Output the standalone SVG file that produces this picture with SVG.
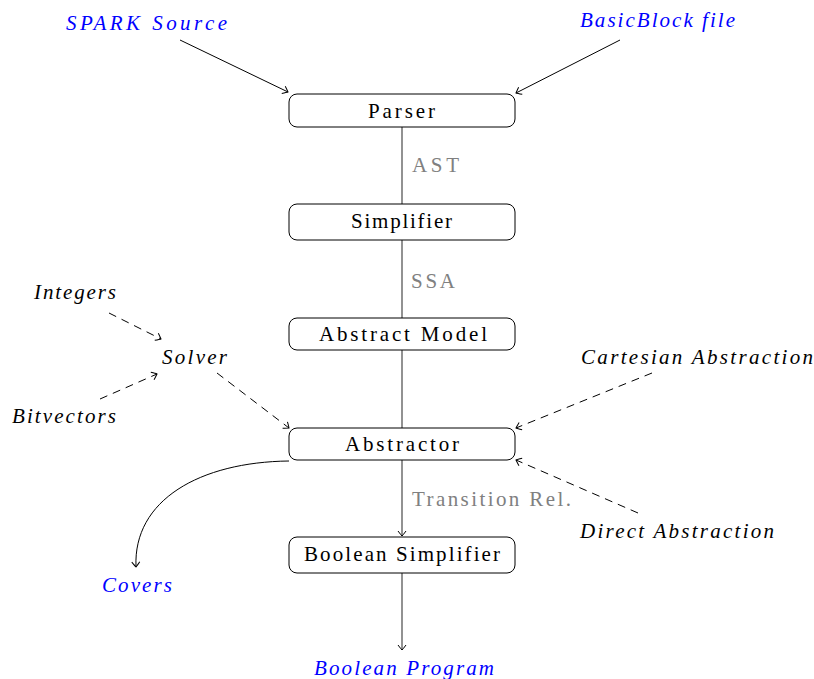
<svg xmlns="http://www.w3.org/2000/svg" width="814" height="679" viewBox="0 0 814 679">
<style>
.box{fill:#fff;stroke:#000;stroke-width:1}
.b{fill:#0000ff}
.g{fill:#808080}
.ln{fill:none;stroke:#000;stroke-width:1}
.gl{fill:none;stroke:#777;stroke-width:1.6}
.d{stroke-dasharray:8 6}
</style>
<defs>
<marker id="to" markerUnits="userSpaceOnUse" markerWidth="12" markerHeight="12" viewBox="-8 -6 10 12" refX="0" refY="0" orient="auto">
<path d="M-5,-4 Q-1,-1 0,0 Q-1,1 -5,4" fill="none" stroke="#000" stroke-width="1"/>
</marker>
</defs>
<g font-family="Liberation Serif, DejaVu Serif, serif" font-size="21">
<g id="connectors">
<line class="gl" x1="402" y1="127" x2="402" y2="204"/>
<line class="gl" x1="402" y1="240" x2="402" y2="318"/>
<line class="gl" x1="402" y1="350" x2="402" y2="428"/>
<line class="gl" x1="402" y1="460" x2="402" y2="536" marker-end="url(#to)"/>
<line class="gl" x1="402" y1="573" x2="402" y2="650" marker-end="url(#to)"/>
<line class="ln" x1="180" y1="40" x2="288" y2="92" marker-end="url(#to)"/>
<line class="ln" x1="620" y1="40" x2="516" y2="93" marker-end="url(#to)"/>
<line class="ln d" x1="109" y1="313" x2="161" y2="339" marker-end="url(#to)"/>
<line class="ln d" x1="100" y1="399" x2="157" y2="374" marker-end="url(#to)"/>
<line class="ln d" x1="217" y1="373" x2="289" y2="428" marker-end="url(#to)"/>
<line class="ln d" x1="652" y1="373" x2="516" y2="428" marker-end="url(#to)"/>
<line class="ln d" x1="638" y1="513" x2="516" y2="460" marker-end="url(#to)"/>
<path class="ln" d="M289,461 C200,462 133,500 136,567" marker-end="url(#to)"/>
<text class="g" x="412" y="172" textLength="47" lengthAdjust="spacing">AST</text>
<text class="g" x="411" y="288" textLength="44" lengthAdjust="spacing">SSA</text>
<text class="g" x="412" y="506" textLength="159" lengthAdjust="spacing">Transition Rel.</text>
</g>
<g id="parser"><rect class="box" x="289" y="94" width="226" height="33" rx="8"/><text x="368" y="118" textLength="67" lengthAdjust="spacing">Parser</text></g>
<g id="simplifier"><rect class="box" x="289" y="204" width="226" height="36" rx="8"/><text x="351" y="228" textLength="101" lengthAdjust="spacing">Simplifier</text></g>
<g id="abstract-model"><rect class="box" x="289" y="318" width="226" height="32" rx="8"/><text x="319" y="341" textLength="168" lengthAdjust="spacing">Abstract Model</text></g>
<g id="abstractor"><rect class="box" x="289" y="428" width="226" height="32" rx="8"/><text x="345" y="451" textLength="114" lengthAdjust="spacing">Abstractor</text></g>
<g id="boolean-simplifier"><rect class="box" x="289" y="537" width="226" height="36" rx="8"/><text x="304" y="561" textLength="196" lengthAdjust="spacing">Boolean Simplifier</text></g>
<g font-style="italic">
<g id="spark-source"><text class="b" x="66" y="30" textLength="161" lengthAdjust="spacing">SPARK Source</text></g>
<g id="basicblock-file"><text class="b" x="580" y="27" textLength="155" lengthAdjust="spacing">BasicBlock file</text></g>
<g id="integers"><text x="34" y="299" textLength="82" lengthAdjust="spacing">Integers</text></g>
<g id="solver"><text x="162" y="364" textLength="65" lengthAdjust="spacing">Solver</text></g>
<g id="bitvectors"><text x="12" y="423" textLength="104" lengthAdjust="spacing">Bitvectors</text></g>
<g id="cartesian"><text x="581" y="364" textLength="232" lengthAdjust="spacing">Cartesian Abstraction</text></g>
<g id="direct"><text x="580" y="538" textLength="194" lengthAdjust="spacing">Direct Abstraction</text></g>
<g id="covers"><text class="b" x="102" y="592" textLength="70" lengthAdjust="spacing">Covers</text></g>
<g id="boolean-program"><text class="b" x="314" y="675" textLength="180" lengthAdjust="spacing">Boolean Program</text></g>
</g>
</g>
</svg>
